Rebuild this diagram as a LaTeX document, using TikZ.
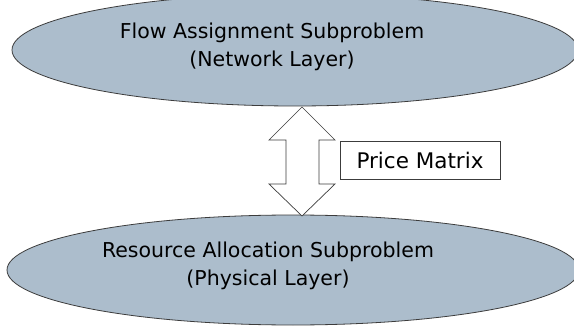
\documentclass[tikz,border=0pt]{standalone}
\usepackage{fontspec}
\setmainfont{DejaVu Sans}
\usetikzlibrary{shapes.geometric}
\definecolor{ellfill}{RGB}{172,189,204}
\definecolor{ellline}{RGB}{60,60,60}
\tikzset{
  layer/.style={ellipse, draw=ellline, line width=0.8pt, fill=ellfill, inner sep=0pt},
  lbl/.style={align=center, font=\fontsize{20.5}{28}\selectfont, text=black},
  pricebox/.style={draw=ellline, line width=0.8pt, fill=white, font=\fontsize{21.5}{24}\selectfont, minimum width=160pt, minimum height=38pt, inner sep=0pt},
  blockarrow/.style={draw=ellline, line width=0.7pt, fill=white, line join=miter}
}
\begin{document}
\begin{tikzpicture}[x=1pt,y=-1pt]
\useasboundingbox (0,0) rectangle (574,329);
\clip (0,0) rectangle (574,329);
\fill[white] (0,0) rectangle (574,329);
\node[layer, minimum width=566pt, minimum height=112pt] (top) at (295,50) {};
\node[lbl] (toptext) at (272,47) {Flow Assignment Subproblem\\(Network Layer)};
\node[layer, minimum width=572pt, minimum height=110pt] (bot) at (293,270) {};
\node[lbl] (bottext) at (268,266) {Resource Allocation Subproblem\\(Physical Layer)};
\coordinate (tip1) at (302,107);
\coordinate (tip2) at (302,216);
\draw[blockarrow] (tip1) -- (335,140) -- (319,140) -- (319,184) -- (335,184)
  -- (tip2) -- (269,184) -- (286,184) -- (286,140) -- (269,140) -- cycle;
\node[pricebox] (pm) at (420,160) {Price Matrix};
\end{tikzpicture}
\end{document}
